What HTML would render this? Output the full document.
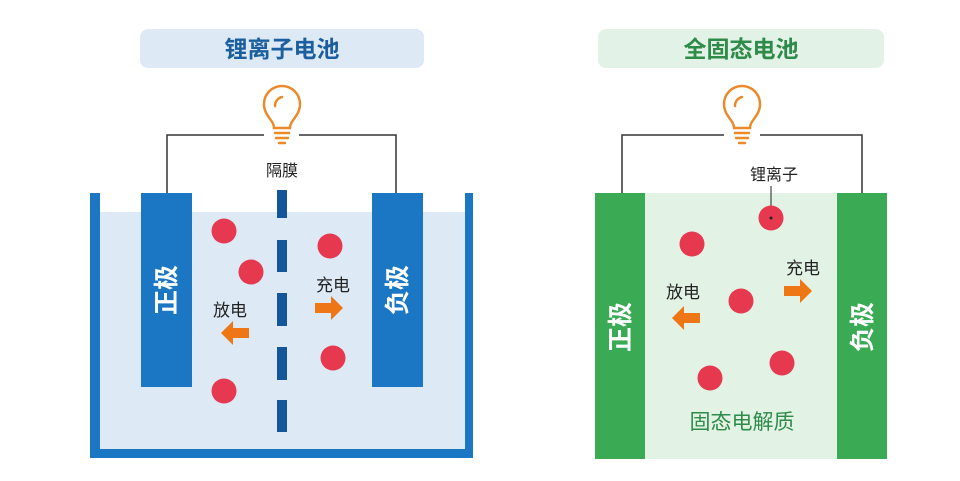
<!DOCTYPE html>
<html><head><meta charset="utf-8"><style>
body{margin:0;background:#fff}
svg{display:block}
text{font-family:"Liberation Sans","Noto Sans CJK SC",sans-serif}
</style></head><body>
<svg width="960" height="481" viewBox="0 0 960 481">
<defs>
<g id="bulb" fill="none" stroke="#ec8a2a" stroke-width="2.5" stroke-linecap="round">
<path d="M-8,18 C-8,10 -18,6 -18,-6 A18,18 0 1 1 18,-6 C18,6 8,10 8,18 Z"/>
<path d="M-7,-4 A9,9 0 0 1 0,-13"/>
<line x1="-7" y1="23" x2="7" y2="23"/><line x1="-6" y1="28" x2="6" y2="28"/><line x1="-3" y1="33" x2="3" y2="33"/>
</g>
<path id="arr" d="M0,-5 H-16 V-12 L-28,0 L-16,12 V5 H0 Z" fill="#ee7614"/>
</defs>
<!-- LEFT -->
<rect x="140" y="29" width="284" height="39" rx="8" fill="#dde9f5"/>
<text x="282" y="57" text-anchor="middle" font-size="23" font-weight="bold" fill="#1c5f9e">锂离子电池</text>
<use href="#bulb" x="282" y="110"/>
<path d="M167,193 V135 H264 M299,135 H396 V193" fill="none" stroke="#333" stroke-width="1.5"/>
<rect x="100" y="212" width="365" height="238" fill="#dde9f5"/>
<path d="M90,193 H100 V449 H465 V193 H473 V458 H90 Z" fill="#1b77c4"/>
<rect x="141" y="193" width="51" height="194" fill="#1b77c4"/>
<rect x="372" y="193" width="51" height="194" fill="#1b77c4"/>
<g fill="#13579a"><rect x="277" y="190" width="10" height="28"/><rect x="277" y="240" width="10" height="32"/><rect x="277" y="293" width="10" height="33"/><rect x="277" y="347" width="10" height="33"/><rect x="277" y="400" width="10" height="32"/></g>
<text x="282" y="176" text-anchor="middle" font-size="16" fill="#222">隔膜</text>
<text transform="translate(175,290) rotate(-90)" text-anchor="middle" font-size="25" font-weight="bold" fill="#fff">正极</text>
<text transform="translate(406,290) rotate(-90)" text-anchor="middle" font-size="25" font-weight="bold" fill="#fff">负极</text>
<g fill="#e6394f"><circle cx="224" cy="231" r="12.5"/><circle cx="251" cy="272" r="12.5"/><circle cx="330" cy="246" r="12.5"/><circle cx="333" cy="358" r="12.5"/><circle cx="224" cy="391" r="12.5"/></g>
<text x="230" y="316" text-anchor="middle" font-size="17" fill="#222">放电</text>
<use href="#arr" x="249" y="333"/>
<text x="333" y="291" text-anchor="middle" font-size="17" fill="#222">充电</text>
<use href="#arr" transform="translate(315,308) scale(-1,1)"/>
<!-- RIGHT -->
<rect x="598" y="29" width="286" height="39" rx="8" fill="#e3f2e6"/>
<text x="741" y="57" text-anchor="middle" font-size="23" font-weight="bold" fill="#2e8b4a">全固态电池</text>
<use href="#bulb" x="742" y="110"/>
<path d="M622,193 V135 H724 M760,135 H862 V193" fill="none" stroke="#333" stroke-width="1.5"/>
<rect x="645" y="193" width="192" height="266" fill="#e2f2e4"/>
<rect x="595" y="193" width="50" height="266" fill="#3aaa55"/>
<rect x="837" y="193" width="50" height="266" fill="#3aaa55"/>
<text transform="translate(629,327) rotate(-90)" text-anchor="middle" font-size="25" font-weight="bold" fill="#fff">正极</text>
<text transform="translate(871,327) rotate(-90)" text-anchor="middle" font-size="25" font-weight="bold" fill="#fff">负极</text>
<text x="774" y="180" text-anchor="middle" font-size="16" fill="#222">锂离子</text>
<line x1="771" y1="186" x2="771" y2="218" stroke="#222" stroke-width="1"/>
<g fill="#e6394f"><circle cx="771" cy="218" r="12.5"/><circle cx="692" cy="244" r="12.5"/><circle cx="741" cy="301" r="12.5"/><circle cx="782" cy="363" r="12.5"/><circle cx="710" cy="378" r="12.5"/></g>
<circle cx="771" cy="218" r="1.5" fill="#222"/>
<text x="683" y="298" text-anchor="middle" font-size="17" fill="#222">放电</text>
<use href="#arr" x="700" y="318"/>
<text x="803" y="274" text-anchor="middle" font-size="17" fill="#222">充电</text>
<use href="#arr" transform="translate(784,291) scale(-1,1)"/>
<text x="742" y="429" text-anchor="middle" font-size="21" fill="#2e8b4a">固态电解质</text>
</svg>
</body></html>
